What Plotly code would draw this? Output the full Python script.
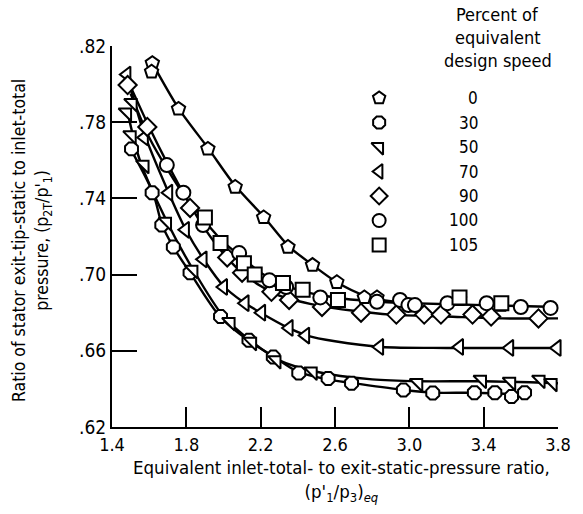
import plotly.graph_objects as go

# ---------------- data ----------------
speeds = ["0", "30", "50", "70", "90", "100", "105"]
symbols = ["pentagon", "octagon", "triangle-ne", "triangle-left", "diamond", "circle", "square"]

x_0 = [1.617, 1.613, 1.758, 1.916, 2.063, 2.216, 2.347, 2.479, 2.61, 2.758, 2.826, 3.27, 3.495]
y_0 = [0.811, 0.8065, 0.787, 0.766, 0.746, 0.730, 0.7145, 0.705, 0.696, 0.688, 0.688, 0.687, 0.684]

x_30 = [1.505, 1.616, 1.668, 1.73, 1.82, 1.984, 2.137, 2.268, 2.405, 2.563, 2.689, 2.968, 3.126, 3.35, 3.46, 3.55, 3.62]
y_30 = [0.766, 0.743, 0.726, 0.7145, 0.701, 0.678, 0.6655, 0.6567, 0.6483, 0.6455, 0.643, 0.6394, 0.6378, 0.638, 0.638, 0.636, 0.638]

x_50 = [1.51, 1.48, 1.505, 1.574, 1.695, 1.837, 2.037, 2.153, 2.284, 2.479, 3.047, 3.39, 3.547, 3.705, 3.77]
y_50 = [0.790, 0.785, 0.773, 0.7575, 0.7276, 0.7024, 0.675, 0.6646, 0.655, 0.649, 0.643, 0.6447, 0.6436, 0.6447, 0.643]

x_70 = [1.48, 1.574, 1.705, 1.795, 1.89, 2.0, 2.116, 2.205, 2.353, 2.442, 2.84, 3.27, 3.54, 3.795]
y_70 = [0.805, 0.772, 0.743, 0.7235, 0.708, 0.6935, 0.685, 0.680, 0.672, 0.668, 0.662, 0.662, 0.6615, 0.6615]

x_90 = [1.484, 1.59, 1.82, 2.02, 2.1, 2.258, 2.353, 2.53, 2.74, 2.93, 3.08, 3.17, 3.34, 3.44, 3.695]
y_90 = [0.7995, 0.7775, 0.735, 0.709, 0.701, 0.691, 0.6867, 0.683, 0.680, 0.679, 0.679, 0.679, 0.679, 0.678, 0.677]

x_100 = [1.695, 1.784, 1.89, 2.084, 2.247, 2.337, 2.521, 2.826, 2.95, 2.995, 3.03, 3.205, 3.416, 3.6, 3.76]
y_100 = [0.7575, 0.743, 0.726, 0.7113, 0.697, 0.6935, 0.688, 0.6857, 0.6867, 0.684, 0.684, 0.685, 0.685, 0.683, 0.6825]

x_105 = [1.9, 1.984, 2.11, 2.168, 2.32, 2.426, 2.616, 3.27, 3.495]
y_105 = [0.730, 0.7166, 0.706, 0.700, 0.6956, 0.692, 0.6867, 0.688, 0.685]

# faired curves drawn through the data
fit_a_x = [1.617, 1.76, 1.92, 2.06, 2.22, 2.35, 2.48, 2.61, 2.76, 2.9, 3.05]
fit_a_y = [0.811, 0.787, 0.766, 0.747, 0.730, 0.715, 0.705, 0.696, 0.689, 0.686, 0.685]
fit_b_x = [1.5, 1.6, 1.7, 1.8, 1.9, 2.0, 2.1, 2.2, 2.4, 2.6, 2.8, 3.0, 3.4, 3.8]
fit_b_y = [0.795, 0.772, 0.755, 0.740, 0.728, 0.717, 0.709, 0.701, 0.692, 0.688, 0.686, 0.685, 0.684, 0.683]
fit_c_x = [1.48, 1.6, 1.7, 1.8, 1.9, 2.0, 2.1, 2.2, 2.3, 2.5, 2.7, 2.9, 3.2, 3.5, 3.8]
fit_c_y = [0.803, 0.7775, 0.758, 0.740, 0.724, 0.711, 0.701, 0.694, 0.689, 0.684, 0.681, 0.679, 0.678, 0.677, 0.677]
fit_d_x = [1.48, 1.57, 1.7, 1.8, 1.9, 2.0, 2.1, 2.2, 2.35, 2.45, 2.6, 2.85, 3.2, 3.5, 3.8]
fit_d_y = [0.805, 0.775, 0.744, 0.723, 0.707, 0.694, 0.686, 0.680, 0.672, 0.668, 0.665, 0.662, 0.6615, 0.6615, 0.6615]
fit_e_x = [1.48, 1.55, 1.7, 1.84, 2.0, 2.15, 2.3, 2.5, 2.8, 3.05, 3.4, 3.8]
fit_e_y = [0.787, 0.76, 0.727, 0.702, 0.678, 0.665, 0.655, 0.649, 0.645, 0.644, 0.644, 0.643]
fit_f_x = [1.5, 1.62, 1.67, 1.73, 1.82, 1.98, 2.14, 2.27, 2.4, 2.56, 2.7, 2.97, 3.13, 3.35, 3.65]
fit_f_y = [0.766, 0.743, 0.726, 0.7145, 0.701, 0.678, 0.665, 0.657, 0.649, 0.645, 0.643, 0.6394, 0.638, 0.638, 0.637]

x_ticks = [1.4, 1.8, 2.2, 2.6, 3.0, 3.4, 3.8]
x_ticktext = ["1.4", "1.8", "2.2", "2.6", "3.0", "3.4", "3.8"]
y_ticks = [0.62, 0.66, 0.70, 0.74, 0.78, 0.82]
y_ticktext = [".62", ".66", ".70", ".74", ".78", ".82"]

series_x = [x_0, x_30, x_50, x_70, x_90, x_100, x_105]
series_y = [y_0, y_30, y_50, y_70, y_90, y_100, y_105]
fits = [(fit_a_x, fit_a_y), (fit_b_x, fit_b_y), (fit_c_x, fit_c_y),
        (fit_d_x, fit_d_y), (fit_e_x, fit_e_y), (fit_f_x, fit_f_y)]

FONT = "DejaVu Sans Condensed, Liberation Sans Narrow, Arial Narrow, sans-serif"

fig = go.Figure()

for fx, fy in fits:
    fig.add_trace(go.Scatter(x=fx, y=fy, mode="lines",
                             line=dict(color="black", width=2.4, shape="spline", smoothing=0.8),
                             showlegend=False, hoverinfo="skip", cliponaxis=False))

for sx, sy, sym, name in zip(series_x, series_y, symbols, speeds):
    fig.add_trace(go.Scatter(x=sx, y=sy, mode="markers", name=name,
                             marker=dict(symbol=sym, size=14, color="white",
                                         line=dict(color="black", width=2)),
                             showlegend=False, cliponaxis=False))

# custom legend on an overlay axis (paper-like 0..1 space)
leg_x = 0.599
leg_y0 = 0.8635
leg_step = 0.0643
leg_y = [leg_y0 - i * leg_step for i in range(len(speeds))]
for i, (sym, name) in enumerate(zip(symbols, speeds)):
    fig.add_trace(go.Scatter(x=[leg_x], y=[leg_y[i]], mode="markers", xaxis="x2", yaxis="y2",
                             marker=dict(symbol=sym, size=13, color="white",
                                         line=dict(color="black", width=2)),
                             showlegend=False, hoverinfo="skip", cliponaxis=False))
    fig.add_annotation(x=0.825, y=leg_y[i], xref="paper", yref="paper", text=name,
                       showarrow=False, xanchor="right", yanchor="middle",
                       font=dict(family=FONT, size=17, color="black"))

for txt, yy in [("Percent of", 1.083), ("equivalent", 1.022), ("design speed", 0.963)]:
    fig.add_annotation(x=0.865, y=yy, xref="paper", yref="paper", text=txt,
                       showarrow=False, xanchor="center", yanchor="middle",
                       font=dict(family=FONT, size=18, color="black"))

# axis titles
fig.add_annotation(x=-0.18, y=0.49, xref="paper", yref="paper", textangle=-90,
                   text="Ratio of stator exit-tip-static to inlet-total<br>pressure, (p<sub>2T</sub>/p'<sub>1</sub>)",
                   showarrow=False, xanchor="center", yanchor="middle",
                   font=dict(family=FONT, size=17.5, color="black"))
fig.add_annotation(x=0.515, y=-0.074, xref="paper", yref="paper",
                   text="Equivalent inlet-total- to exit-static-pressure ratio,<br>(p'<sub>1</sub>/p<sub>3</sub>)<sub><i>eq</i></sub>",
                   showarrow=False, xanchor="center", yanchor="top",
                   font=dict(family=FONT, size=18.5, color="black"))

fig.update_layout(
    width=583, height=514,
    margin=dict(l=112, r=15, t=46, b=87),
    paper_bgcolor="white", plot_bgcolor="white",
    showlegend=False,
    font=dict(family=FONT, size=17, color="black"),
    xaxis=dict(range=[1.4, 3.8], tickvals=x_ticks, ticktext=x_ticktext,
               ticks="inside", ticklen=20, tickwidth=2, tickcolor="black",
               showline=True, linecolor="black", linewidth=2, showgrid=False,
               zeroline=False, tickfont=dict(family=FONT, size=18)),
    yaxis=dict(range=[0.62, 0.82], tickvals=y_ticks, ticktext=y_ticktext,
               ticks="inside", ticklen=25, tickwidth=2, tickcolor="black",
               showline=True, linecolor="black", linewidth=2, showgrid=False,
               zeroline=False, tickfont=dict(family=FONT, size=19)),
    xaxis2=dict(overlaying="x", range=[0, 1], visible=False, anchor="y2"),
    yaxis2=dict(overlaying="y", range=[0, 1], visible=False, anchor="x2"),
)

fig.write_html("out.html")
